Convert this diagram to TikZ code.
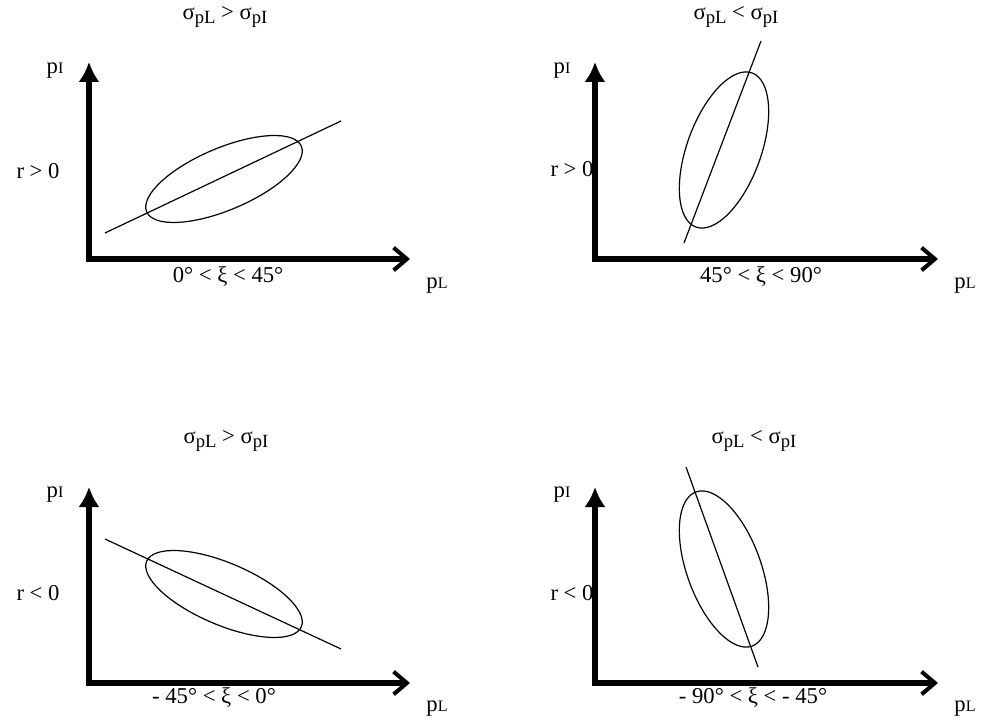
\documentclass[tikz,border=0pt]{standalone}
\usepackage{fontspec}
\setmainfont{Liberation Serif}
\usetikzlibrary{arrows.meta}
\newcommand{\subcap}[1]{{\fontsize{12}{12}\selectfont #1}}
\newcommand{\sigsub}[1]{\raisebox{-0.4ex}{\fontsize{14}{14}\selectfont #1}}
\tikzset{every picture/.style={line width=0.75pt}}

\begin{document}
\begin{tikzpicture}[x=0.75pt,y=0.75pt,yscale=-1,xscale=1,
  axis/.style={line width=4pt,line join=miter,{Latex[length=15pt,width=16pt]}-{Straight Barb[length=10pt,width=17pt,line width=3pt]}},
  trace/.style={line width=0.9pt},
  lbl/.style={inner sep=0.75pt,font=\fontsize{17}{20}\selectfont}]
\useasboundingbox (0,0) rectangle (982,720);

%Panel 1: r > 0, sigma pL > sigma pI
\coordinate (o1) at (89,259); \coordinate (y1) at (89,62); \coordinate (x1) at (410,259);
\coordinate (la1) at (105,233); \coordinate (lb1) at (341,121);
\draw[axis] (y1) -- (o1) -- (x1);
%Shape: Ellipse
\draw[trace, rotate around={-23:(224,179)}] (224,179) ellipse (84 and 31);
\draw[trace] (la1) -- (lb1);
% Text Node
\node[lbl] (t1) at (225,17) {σ\sigsub{pL} > σ\sigsub{pI}};
\node[lbl] (py1) at (55,71) {p\subcap{I}};
\node[lbl] (r1) at (38,171) {r > 0};
\node[lbl] (xi1) at (228,277) {0° < ξ < 45°};
\node[lbl] (px1) at (437,286) {p\subcap{L}};

%Panel 2: r > 0, sigma pL < sigma pI
\coordinate (o2) at (595,259); \coordinate (y2) at (595,62); \coordinate (x2) at (938,259);
\coordinate (la2) at (684,243); \coordinate (lb2) at (761,41);
\draw[axis] (y2) -- (o2) -- (x2);
%Shape: Ellipse
\draw[trace, rotate around={-70:(724,150)}] (724,150) ellipse (82 and 37);
\draw[trace] (la2) -- (lb2);
% Text Node
\node[lbl] (t2) at (736,17) {σ\sigsub{pL} < σ\sigsub{pI}};
\node[lbl] (py2) at (562,71) {p\subcap{I}};
\node[lbl] (r2) at (572,169) {r > 0};
\node[lbl] (xi2) at (761,277) {45° < ξ < 90°};
\node[lbl] (px2) at (965,286) {p\subcap{L}};

%Panel 3: r < 0, sigma pL > sigma pI
\coordinate (o3) at (89,683); \coordinate (y3) at (89,487); \coordinate (x3) at (410,683);
\coordinate (la3) at (105,539); \coordinate (lb3) at (341,649);
\draw[axis] (y3) -- (o3) -- (x3);
%Shape: Ellipse
\draw[trace, rotate around={23:(224,594)}] (224,594) ellipse (84 and 31);
\draw[trace] (la3) -- (lb3);
% Text Node
\node[lbl] (t3) at (226,441) {σ\sigsub{pL} > σ\sigsub{pI}};
\node[lbl] (py3) at (55,495) {p\subcap{I}};
\node[lbl] (r3) at (38,593) {r < 0};
\node[lbl] (xi3) at (214,698) {- 45° < ξ < 0°};
\node[lbl] (px3) at (437,709) {p\subcap{L}};

%Panel 4: r < 0, sigma pL < sigma pI
\coordinate (o4) at (595,683); \coordinate (y4) at (595,487); \coordinate (x4) at (938,683);
\coordinate (la4) at (686,467); \coordinate (lb4) at (758,667);
\draw[axis] (y4) -- (o4) -- (x4);
%Shape: Ellipse
\draw[trace, rotate around={70:(724,569)}] (724,569) ellipse (82 and 37);
\draw[trace] (la4) -- (lb4);
% Text Node
\node[lbl] (t4) at (754,441) {σ\sigsub{pL} < σ\sigsub{pI}};
\node[lbl] (py4) at (562,495) {p\subcap{I}};
\node[lbl] (r4) at (572,593) {r < 0};
\node[lbl] (xi4) at (753,698) {- 90° < ξ < - 45°};
\node[lbl] (px4) at (965,709) {p\subcap{L}};

\end{tikzpicture}
\end{document}
